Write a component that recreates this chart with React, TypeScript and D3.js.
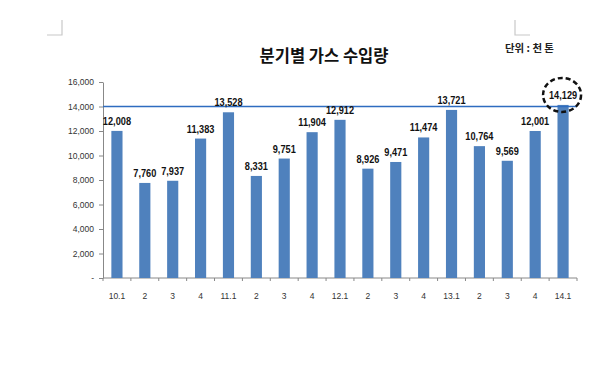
import React, { useEffect, useRef } from "react";
import * as d3 from "d3";

const quarters = ["10.1", "2", "3", "4", "11.1", "2", "3", "4", "12.1", "2", "3", "4", "13.1", "2", "3", "4", "14.1"];
const imports = [12008, 7760, 7937, 11383, 13528, 8331, 9751, 11904, 12912, 8926, 9471, 11474, 13721, 10764, 9569, 12001, 14129];
const yTicks = [0, 2000, 4000, 6000, 8000, 10000, 12000, 14000, 16000];
const refLevel = 14000;
const titleText = "분기별 가스 수입량";
const unitText = "단위 : 천 톤";

export default function App() {
  const ref = useRef<SVGSVGElement>(null);

  useEffect(() => {
    const svg = d3.select(ref.current);
    svg.selectAll("*").remove();

    const left = 103, right = 577, top = 82, bottom = 278;

    // unique keys for the band scale, labels repeat
    const keys = quarters.map((q, i) => i + "_" + q);

    const x = d3.scaleBand()
      .domain(keys)
      .range([left, right])
      .paddingInner(0.6)
      .paddingOuter(0.3);

    const y = d3.scaleLinear().domain([0, 16000]).range([bottom, top]);

    // page corner marks
    const corner = svg.append("g").attr("stroke", "#c8c8c8").attr("stroke-width", 1.2).attr("fill", "none");
    corner.append("path").attr("d", "M62,20 V35 H47");
    corner.append("path").attr("d", "M515,20 V35 H530");

    svg.append("text")
      .attr("x", 324)
      .attr("y", 62)
      .attr("text-anchor", "middle")
      .attr("font-family", "'Noto Sans CJK KR', sans-serif")
      .attr("font-weight", 700)
      .attr("font-size", 16.5)
      .attr("fill", "#111")
      .text(titleText);

    svg.append("text")
      .attr("x", 505)
      .attr("y", 52)
      .attr("font-family", "'Noto Sans CJK KR', sans-serif")
      .attr("font-weight", 700)
      .attr("font-size", 10)
      .attr("textLength", 49)
      .attr("lengthAdjust", "spacingAndGlyphs")
      .attr("fill", "#222")
      .text(unitText);

    // y axis
    const yAxis = svg.append("g").attr("transform", `translate(${left},0)`)
      .call(d3.axisLeft(y).tickValues(yTicks).tickSize(4).tickSizeOuter(0)
        .tickFormat((d) => (+d === 0 ? "-" : d3.format(",")(+d))));
    yAxis.select(".domain").attr("stroke", "#888");
    yAxis.selectAll(".tick line").attr("stroke", "#888");
    yAxis.selectAll(".tick text")
      .attr("x", -9)
      .attr("font-family", "'Liberation Sans', Arial, sans-serif")
      .attr("font-size", 8.5)
      .attr("fill", "#333");

    // x axis, ticks between categories
    const xg = svg.append("g").attr("transform", `translate(0,${bottom})`);
    xg.append("line").attr("x1", left).attr("x2", right).attr("stroke", "#888");
    const step = x.step();
    d3.range(keys.length + 1).forEach((i) => {
      const tx = left + i * step;
      xg.append("line").attr("x1", tx).attr("x2", tx).attr("y1", 0).attr("y2", 3).attr("stroke", "#888");
    });
    xg.selectAll("text.q")
      .data(keys)
      .enter()
      .append("text")
      .attr("class", "q")
      .attr("x", (d) => x(d)! + x.bandwidth() / 2)
      .attr("y", 21)
      .attr("text-anchor", "middle")
      .attr("font-family", "'Liberation Sans', Arial, sans-serif")
      .attr("font-size", 8.5)
      .attr("fill", "#333")
      .text((d, i) => quarters[i]);

    // bars
    svg.selectAll("rect.bar")
      .data(imports)
      .enter()
      .append("rect")
      .attr("class", "bar")
      .attr("x", (d, i) => x(keys[i])!)
      .attr("y", (d) => y(d))
      .attr("width", x.bandwidth())
      .attr("height", (d) => bottom - y(d))
      .attr("fill", "#4f81bd");

    // reference line
    svg.append("line")
      .attr("x1", left)
      .attr("x2", right)
      .attr("y1", y(refLevel))
      .attr("y2", y(refLevel))
      .attr("stroke", "#2e6cc0")
      .attr("stroke-width", 1.5);

    // value labels, squeezed to look like a narrow face
    svg.selectAll("text.val")
      .data(imports)
      .enter()
      .append("text")
      .attr("class", "val")
      .attr("transform", (d, i) => `translate(${x(keys[i])! + x.bandwidth() / 2},${y(d) - 6}) scale(0.8,1)`)
      .attr("text-anchor", "middle")
      .attr("font-family", "'Liberation Sans', Arial, sans-serif")
      .attr("font-weight", 700)
      .attr("font-size", 11.5)
      .attr("fill", "#111")
      .text((d) => d3.format(",")(d));

    // dashed circle around the latest value
    const last = keys.length - 1;
    svg.append("ellipse")
      .attr("cx", x(keys[last])! + x.bandwidth() / 2 - 1)
      .attr("cy", y(imports[last]) - 10)
      .attr("rx", 19)
      .attr("ry", 17)
      .attr("fill", "none")
      .attr("stroke", "#111")
      .attr("stroke-width", 2.5)
      .attr("stroke-dasharray", "5,3");
  }, []);

  return (
    <svg
      ref={ref}
      width={600}
      height={391}
      style={{ position: "absolute", left: 0, top: 0, background: "#fff" }}
    />
  );
}
